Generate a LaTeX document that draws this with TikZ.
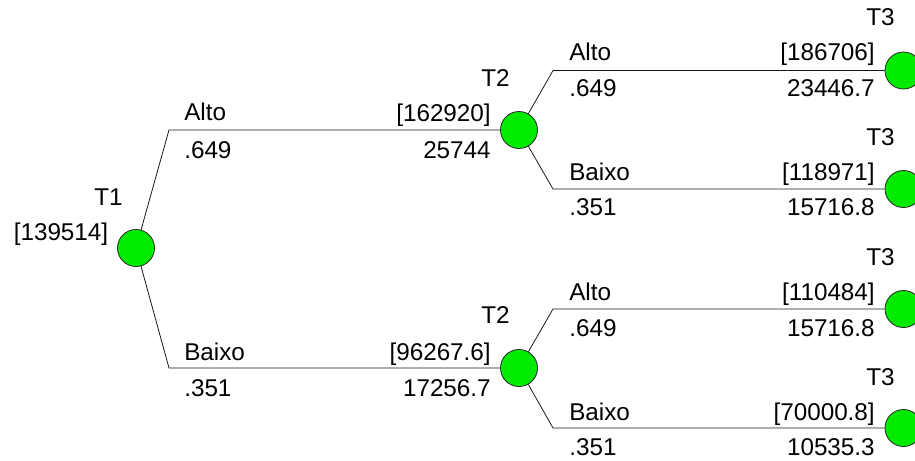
\documentclass[tikz,border=0pt]{standalone}
\usepackage{fontspec}
\setmainfont{Liberation Sans}
\definecolor{nodegreen}{RGB}{0,235,0}
\begin{document}
\begin{tikzpicture}[x=0.75pt,y=-0.75pt,
  chance/.style={circle,draw=black!85,fill=nodegreen,minimum size=27.75pt,inner sep=0pt,line width=0.6pt},
  branch/.style={line width=0.6pt,black!90},
  lbl/.style={font=\fontsize{18.2}{20}\selectfont,inner sep=0pt},
  lw/.style={lbl,anchor=base west},
  le/.style={lbl,anchor=base east}]
\useasboundingbox (0,0) rectangle (915,461);
\clip (0,0) rectangle (915,461);
% chance nodes
\node[chance] (T1) at (136,248) {};
\node[chance] (T2a) at (519,130) {};
\node[chance] (T2b) at (519,368) {};
\node[chance] (T3a) at (903.5,70.5) {};
\node[chance] (T3b) at (903.5,189) {};
\node[chance] (T3c) at (903.5,309) {};
\node[chance] (T3d) at (903.5,428) {};
% corners
\coordinate (c1) at (169,130);
\coordinate (c2) at (169,368);
\coordinate (ca) at (553,70.5);
\coordinate (cb) at (553,189);
\coordinate (cc) at (553,309);
\coordinate (cd) at (553,428);
% branches
\draw[branch] (T1) -- (c1) -- (T2a);
\draw[branch] (T1) -- (c2) -- (T2b);
\draw[branch] (T2a) -- (ca) -- (T3a);
\draw[branch] (T2a) -- (cb) -- (T3b);
\draw[branch] (T2b) -- (cc) -- (T3c);
\draw[branch] (T2b) -- (cd) -- (T3d);
% T1 labels
\node[le] (t1n) at (123,205) {T1};
\node[le] (t1v) at (108.5,240) {[139514]};
% level 1 branch labels
\node[lw] (b1n) at (184,120) {Alto};
\node[lw] (b1p) at (184,158) {.649};
\node[lw] (b2n) at (184,360.5) {Baixo};
\node[lw] (b2p) at (184,396.5) {.351};
% T2 labels
\node[le] (t2an) at (510,86.5) {T2};
\node[le] (t2av) at (491,121) {[162920]};
\node[le] (t2ap) at (491,158) {25744};
\node[le] (t2bn) at (510,323.5) {T2};
\node[le] (t2bv) at (491,360.5) {[96267.6]};
\node[le] (t2bp) at (491,396.5) {17256.7};
% level 2 branch labels
\node[lw] (ban) at (569,60) {Alto};
\node[lw] (bap) at (569,96.5) {.649};
\node[lw] (bbn) at (569,180) {Baixo};
\node[lw] (bbp) at (569,215) {.351};
\node[lw] (bcn) at (569,300) {Alto};
\node[lw] (bcp) at (569,336.5) {.649};
\node[lw] (bdn) at (569,420) {Baixo};
\node[lw] (bdp) at (569,455) {.351};
% T3 labels
\node[le] (t3an) at (895,25) {T3};
\node[le] (t3av) at (875,60) {[186706]};
\node[le] (t3ap) at (875,96.5) {23446.7};
\node[le] (t3bn) at (895,145.5) {T3};
\node[le] (t3bv) at (875,180) {[118971]};
\node[le] (t3bp) at (875,215) {15716.8};
\node[le] (t3cn) at (895,265) {T3};
\node[le] (t3cv) at (875,300) {[110484]};
\node[le] (t3cp) at (875,336.5) {15716.8};
\node[le] (t3dn) at (895,385) {T3};
\node[le] (t3dv) at (875,420) {[70000.8]};
\node[le] (t3dp) at (875,455) {10535.3};
\end{tikzpicture}
\end{document}
